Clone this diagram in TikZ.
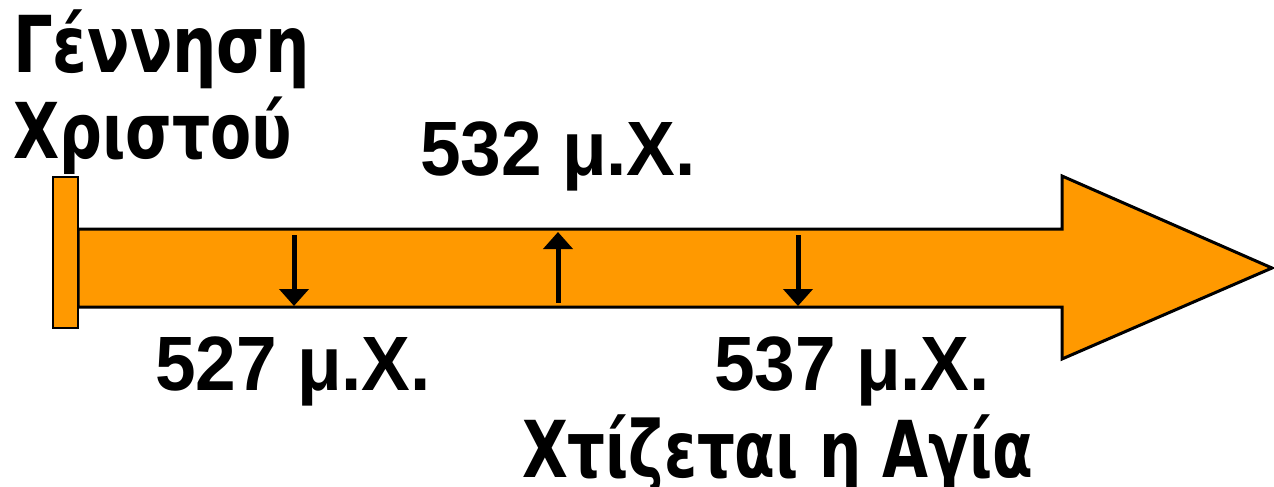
\documentclass[tikz,border=0pt]{standalone}
\usepackage{fontspec}
\usepackage{graphicx}
\setmainfont{Liberation Sans}
\newfontfamily\grfont{DejaVu Sans}
\usetikzlibrary{arrows.meta}
\definecolor{barorange}{RGB}{255,153,0}
\newcommand{\fitbox}[3]{\resizebox{#1}{#2}{\vphantom{X}\smash{#3}}}
\tikzset{
  lbl/.style={anchor=base west, inner sep=0pt, outer sep=0pt, font=\fontsize{74}{80}\selectfont\bfseries},
  bandshape/.style={fill=barorange, draw=black, line width=3pt, line join=miter},
  tick/.style={draw=black, line width=5pt, -{Triangle[width=29pt,length=17pt]}, shorten >=0pt}
}
\begin{document}
\begin{tikzpicture}[x=1pt,y=-1pt]
\useasboundingbox (0,0) rectangle (1274,487);
% big arrow band
\draw[bandshape] (78,229) -- (1062,229) -- (1062,176) -- (1272,268) -- (1062,359) -- (1062,307) -- (78,307) -- cycle;
% start bar
\draw[fill=barorange, draw=black, line width=2pt] (53,177) rectangle (78,328);
% tick coordinates
\coordinate (a1s) at (294,235);
\coordinate (a1e) at (294,306);
\coordinate (a2s) at (558,303);
\coordinate (a2e) at (558,232);
\coordinate (a3s) at (798,235);
\coordinate (a3e) at (798,306);
\draw[tick] (a1s) -- (a1e);
\draw[tick] (a2s) -- (a2e);
\draw[tick] (a3s) -- (a3e);
% labels
\node[lbl] (gen) at (13,72) {\fitbox{297pt}{54pt}{\grfont\bfseries Γέννηση}};
\node[lbl] (chr) at (13,158) {\fitbox{279pt}{53pt}{\grfont\bfseries Χριστού}};
\node[lbl] (d532) at (420,175) {\fitbox{276pt}{53pt}{532 μ.Χ.}};
\node[lbl] (d527) at (155,390) {\fitbox{276pt}{53pt}{527 μ.Χ.}};
\node[lbl] (d537) at (714,390) {\fitbox{276pt}{53pt}{537 μ.Χ.}};
\node[lbl] (build) at (522,477) {\fitbox{511pt}{54pt}{\grfont\bfseries Χτίζεται η Αγία}};
\end{tikzpicture}
\end{document}
